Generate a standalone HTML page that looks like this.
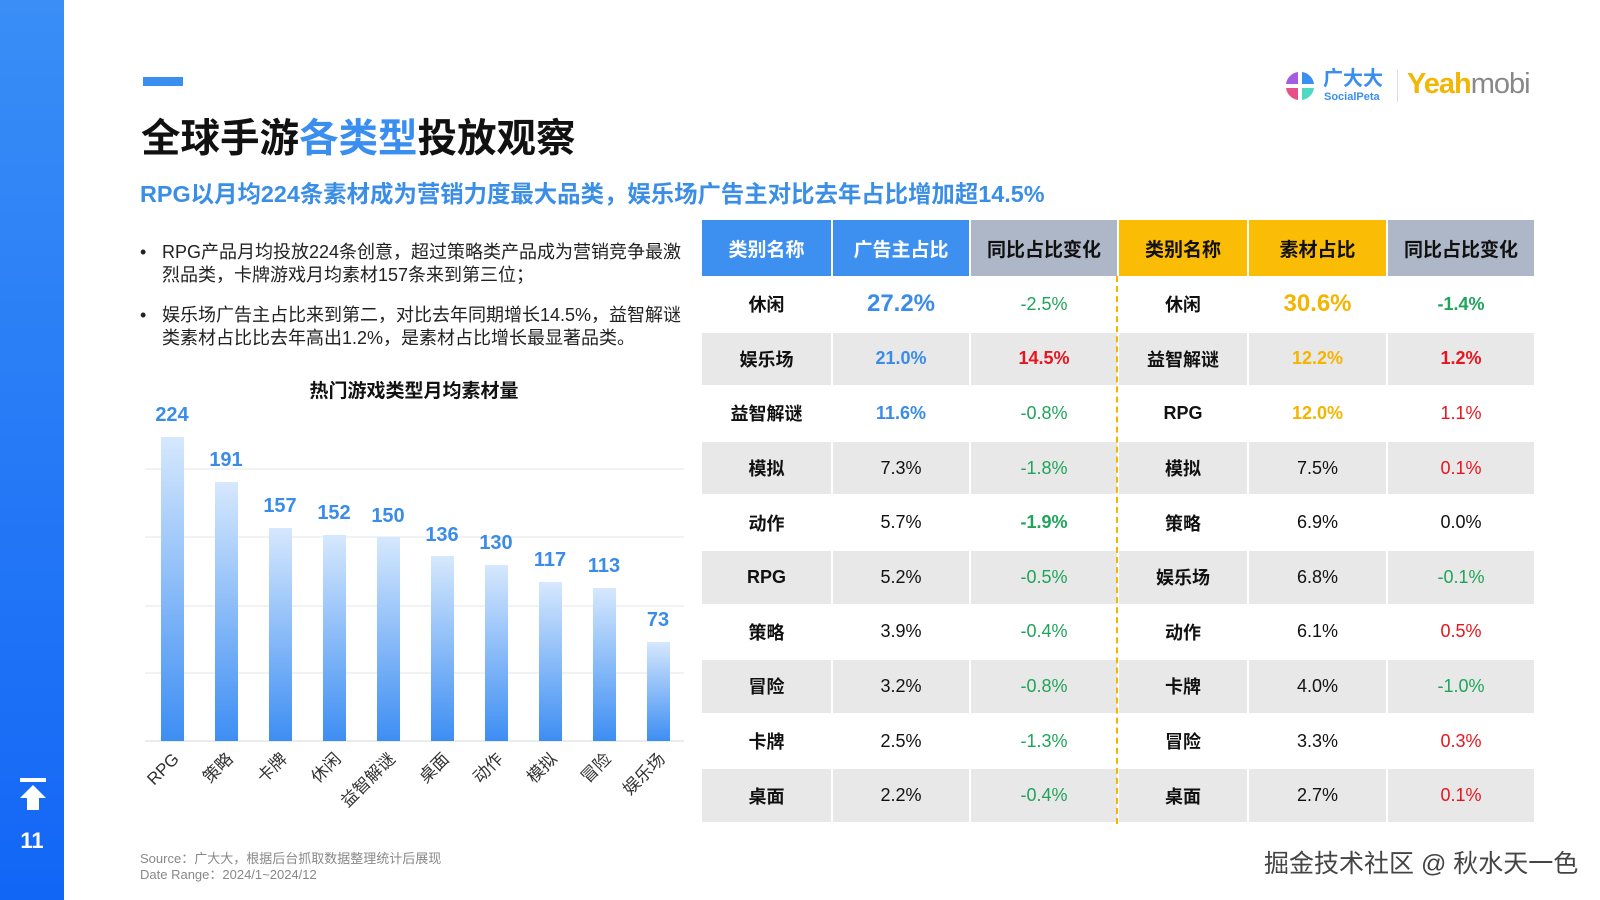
<!DOCTYPE html>
<html><head><meta charset="utf-8"><style>
*{margin:0;padding:0;box-sizing:border-box}
body{width:1600px;height:900px;background:#fff;position:relative;overflow:hidden;font-family:"Liberation Sans","Noto Sans CJK SC",sans-serif;color:#111}
.a{position:absolute;white-space:nowrap}
.side{left:0;top:0;width:64px;height:900px;background:linear-gradient(#3a8ef6,#1266f6)}
.c{position:absolute;display:flex;align-items:center;justify-content:center;font-size:18px}
.h{font-weight:bold;font-size:19px}
.b{font-weight:bold}
.bl{color:#3a8ce8}.ye{color:#f5b400}.gr{color:#1fa45a}.rd{color:#e8141e}
</style></head><body>
<div class="a side"></div>
<svg class="a" style="left:20px;top:778px" width="26" height="34"><rect x="0" y="0" width="26" height="4" fill="#fff"/><polygon points="13,7 26,20 19,20 19,32 7,32 7,20 0,20" fill="#fff"/></svg>
<div class="a b" style="left:0;width:64px;text-align:center;top:828px;font-size:22px;color:#fff">11</div>

<div class="a" style="left:143px;top:77px;width:40px;height:9px;background:#3a8ef0"></div>
<div class="a b" style="left:141px;top:107px;font-size:39.5px">全球手游<span style="color:#3a8ef0">各类型</span>投放观察</div>
<div class="a b" style="left:140px;top:175px;font-size:23.4px;color:#3a8ee6">RPG以月均224条素材成为营销力度最大品类，娱乐场广告主对比去年占比增加超14.5%</div>
<div class="a" style="left:140px;top:241px;font-size:18px;line-height:23px;color:#222">•</div>
<div class="a" style="left:162px;top:241px;font-size:18px;line-height:23px;color:#222">RPG产品月均投放224条创意，超过策略类产品成为营销竞争最激<br>烈品类，卡牌游戏月均素材157条来到第三位；</div>
<div class="a" style="left:140px;top:304px;font-size:18px;line-height:23px;color:#222">•</div>
<div class="a" style="left:162px;top:304px;font-size:18px;line-height:23px;color:#222">娱乐场广告主占比来到第二，对比去年同期增长14.5%，益智解谜<br>类素材占比比去年高出1.2%，是素材占比增长最显著品类。</div>

<svg class="a" style="left:0;top:0" width="700" height="830">
<defs><linearGradient id="g" x1="0" y1="0" x2="0" y2="1"><stop offset="0" stop-color="#d6e8fd"/><stop offset="1" stop-color="#3d8ef3"/></linearGradient></defs>
<text x="414" y="397" text-anchor="middle" font-size="19" font-weight="bold" fill="#111">热门游戏类型月均素材量</text>
<g stroke="#e3e6ea" stroke-width="1"><line x1="145" y1="469" x2="684" y2="469"/><line x1="145" y1="537" x2="684" y2="537"/><line x1="145" y1="606" x2="684" y2="606"/><line x1="145" y1="673" x2="684" y2="673"/><line x1="145" y1="741" x2="684" y2="741" stroke="#d3d8de"/></g>
<g font-size="20" font-weight="bold" fill="#3a8ce8" text-anchor="middle">
<rect x="161" y="437" width="23" height="304" fill="url(#g)"/><text x="172" y="421">224</text>
<rect x="215" y="482" width="23" height="259" fill="url(#g)"/><text x="226" y="466">191</text>
<rect x="269" y="528" width="23" height="213" fill="url(#g)"/><text x="280" y="512">157</text>
<rect x="323" y="535" width="23" height="206" fill="url(#g)"/><text x="334" y="519">152</text>
<rect x="377" y="537" width="23" height="204" fill="url(#g)"/><text x="388" y="522">150</text>
<rect x="431" y="556" width="23" height="185" fill="url(#g)"/><text x="442" y="541">136</text>
<rect x="485" y="565" width="23" height="176" fill="url(#g)"/><text x="496" y="549">130</text>
<rect x="539" y="582" width="23" height="159" fill="url(#g)"/><text x="550" y="566">117</text>
<rect x="593" y="588" width="23" height="153" fill="url(#g)"/><text x="604" y="572">113</text>
<rect x="647" y="642" width="23" height="99" fill="url(#g)"/><text x="658" y="626">73</text>
</g>
<g font-size="17" fill="#333" text-anchor="end">
<text transform="translate(180,760) rotate(-45)">RPG</text>
<text transform="translate(234,760) rotate(-45)">策略</text>
<text transform="translate(288,760) rotate(-45)">卡牌</text>
<text transform="translate(342,760) rotate(-45)">休闲</text>
<text transform="translate(396,760) rotate(-45)">益智解谜</text>
<text transform="translate(450,760) rotate(-45)">桌面</text>
<text transform="translate(504,760) rotate(-45)">动作</text>
<text transform="translate(558,760) rotate(-45)">模拟</text>
<text transform="translate(612,760) rotate(-45)">冒险</text>
<text transform="translate(666,760) rotate(-45)">娱乐场</text>
</g>
</svg>

<div class="a" style="left:140px;top:851px;font-size:13px;line-height:16px;color:#888">Source：广大大，根据后台抓取数据整理统计后展现<br>Date Range：2024/1~2024/12</div>
<div class="a" style="left:1264px;top:844px;font-size:25px;color:#444">掘金技术社区 @ 秋水天一色</div>

<svg class="a" style="left:1284px;top:70px" width="32" height="32"><path d="M14,2 A14,14 0 0 0 2,14 L14,14Z" fill="#a55ce0"/><path d="M18,2 A14,14 0 0 1 30,14 L18,14Z" fill="#3a8ef0"/><path d="M2,18 A14,14 0 0 0 14,30 L14,18Z" fill="#e8508a"/><path d="M18,18 L30,18 A14,14 0 0 1 18,30Z" fill="#4fd8c4"/></svg>
<div class="a b" style="left:1323px;top:68px;font-size:20px;color:#3a8ef0;line-height:22px">广大大</div>
<div class="a b" style="left:1324px;top:91px;font-size:11px;color:#3a8ef0">SocialPeta</div>
<div class="a" style="left:1397px;top:70px;width:1px;height:32px;background:#ddd"></div>
<div class="a" style="left:1407px;top:68px;font-size:29px;letter-spacing:-1px;line-height:32px"><span style="color:#f2b705;font-weight:bold">Yeah</span><span style="color:#888">mobi</span></div>

<div id="t"></div>
<div class="a" style="left:1116px;top:276px;height:548px;border-left:2px dashed #f5b400"></div>
<script>
var cols=[[702,129],[833,136],[971,146],[1119,128],[1249,137],[1388,146]];
var hd=[["类别名称","#3d8ff0","#fff"],["广告主占比","#3d8ff0","#fff"],["同比占比变化","#aeb7c7","#111"],["类别名称","#fbbc05","#111"],["素材占比","#fbbc05","#111"],["同比占比变化","#aeb7c7","#111"]];
var rows=[
["休闲","27.2%|bl b big","-2.5%|gr","休闲","30.6%|ye b big","-1.4%|gr b"],
["娱乐场","21.0%|bl b","14.5%|rd b","益智解谜","12.2%|ye b","1.2%|rd b"],
["益智解谜","11.6%|bl b","-0.8%|gr","RPG","12.0%|ye b","1.1%|rd"],
["模拟","7.3%","-1.8%|gr","模拟","7.5%","0.1%|rd"],
["动作","5.7%","-1.9%|gr b","策略","6.9%","0.0%"],
["RPG","5.2%","-0.5%|gr","娱乐场","6.8%","-0.1%|gr"],
["策略","3.9%","-0.4%|gr","动作","6.1%","0.5%|rd"],
["冒险","3.2%","-0.8%|gr","卡牌","4.0%","-1.0%|gr"],
["卡牌","2.5%","-1.3%|gr","冒险","3.3%","0.3%|rd"],
["桌面","2.2%","-0.4%|gr","桌面","2.7%","0.1%|rd"]];
var h="";
for(var i=0;i<6;i++)h+='<div class="c h" style="left:'+cols[i][0]+'px;top:220px;width:'+cols[i][1]+'px;height:56px;background:'+hd[i][1]+';color:'+hd[i][2]+'">'+hd[i][0]+'</div>';
for(var r=0;r<10;r++){var y=278+r*54.6;var bg=r%2?"#e8e8e8":"#fff";
for(var i=0;i<6;i++){var p=rows[r][i].split("|");var cl=p[1]||"";if(i==0||i==3)cl="b";
var st=cl.indexOf("big")>=0?"font-size:24px;":"";
h+='<div class="c '+cl+'" style="'+st+'left:'+cols[i][0]+'px;top:'+y+'px;width:'+cols[i][1]+'px;height:52.6px;background:'+bg+'">'+p[0]+'</div>';}}
document.getElementById("t").innerHTML=h;
</script>
</body></html>
